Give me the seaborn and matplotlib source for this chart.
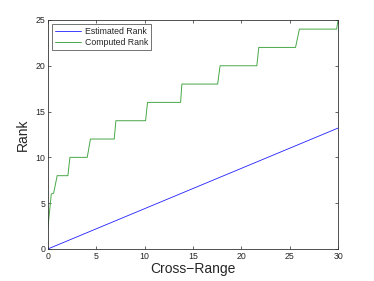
import matplotlib
matplotlib.use("Agg")
import matplotlib.pyplot as plt
import seaborn as sns
import pandas as pd

# estimated rank: straight line
est_range = [0, 30]
est_rank = [0, 13.2]

# computed rank: staircase
comp_range = [0, 0.28, 0.35, 0.6, 0.96, 2.07, 2.28, 4.07, 4.4, 6.86, 7.03,
              10.1, 10.3, 13.72, 13.85, 17.55, 17.8, 21.6, 21.8, 25.6, 26.0,
              29.85, 30]
comp_rank = [2.3, 5.2, 6.0, 6.1, 8, 8, 10, 10, 12, 12, 14, 14, 16, 16, 18,
             18, 20, 20, 22, 22, 24, 24, 25]

x_ticks = [0, 5, 10, 15, 20, 25, 30]
y_ticks = [0, 5, 10, 15, 20, 25]

sns.set_style("ticks")
plt.rcParams['font.family'] = ['Liberation Sans', 'DejaVu Sans']

fig = plt.figure(figsize=(3.74, 2.81), dpi=100)
ax = fig.add_axes([0.128, 0.114, 0.776, 0.815])

est = pd.DataFrame({'x': est_range, 'y': est_rank})
comp = pd.DataFrame({'x': comp_range, 'y': comp_rank})

sns.lineplot(data=est, x='x', y='y', ax=ax, color='#2020ff', lw=0.6,
             estimator=None, sort=False, label='Estimated Rank')
sns.lineplot(data=comp, x='x', y='y', ax=ax, color='#48a848', lw=0.7,
             estimator=None, sort=False, label='Computed Rank')

ax.set_xlim(0, 30)
ax.set_ylim(0, 25)
ax.set_xticks(x_ticks)
ax.set_yticks(y_ticks)
ax.tick_params(direction='in', length=2.5, width=0.5, labelsize=6.3,
               top=True, right=True, pad=2)
for s in ax.spines.values():
    s.set_visible(True)
    s.set_linewidth(0.6)
    s.set_color('#333333')

ax.set_xlabel('Cross\u2212Range', fontsize=10, labelpad=1)
ax.set_ylabel('Rank', fontsize=10, labelpad=4)

leg = ax.legend(loc='upper left', fontsize=6.3, frameon=True, fancybox=False,
                handlelength=2.9, borderpad=0.35, labelspacing=0.2,
                handletextpad=0.5, borderaxespad=0.5)
leg.get_frame().set_edgecolor('#333333')
leg.get_frame().set_linewidth(0.6)

fig.savefig('out.png', dpi=100)
